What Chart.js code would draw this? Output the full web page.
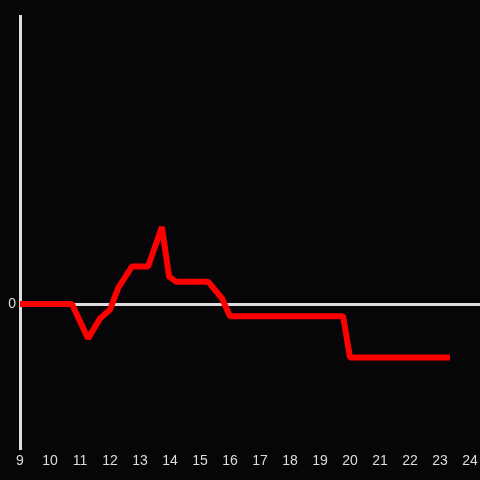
<!DOCTYPE html>
<html>
<head>
<meta charset="utf-8">
<script src="https://cdn.jsdelivr.net/npm/chart.js@4"></script>
<style>
    html, body { margin: 0; padding: 0; background: #060508; }
    #wrap { width: 480px; height: 480px; }
</style>
</head>
<body>
<div id="wrap"><canvas id="lineChart"></canvas></div>
<script>
const hours = [9, 10.73, 11.27, 11.67, 12.0, 12.27, 12.73, 13.27, 13.73, 13.97, 14.2, 15.27, 15.73, 16.0, 19.77, 20.0, 23.33];
const values = [0, 0, -0.24, -0.1, -0.04, 0.11, 0.26, 0.26, 0.535, 0.19, 0.155, 0.155, 0.04, -0.085, -0.085, -0.372, -0.372];
const xTicks = [9, 10, 11, 12, 13, 14, 15, 16, 17, 18, 19, 20, 21, 22, 23, 24];
const yTicks = [0];

const bgPlugin = {
    id: 'bg',
    beforeDraw: (chart) => {
        const ctx = chart.ctx;
        ctx.save();
        ctx.fillStyle = '#060508';
        ctx.fillRect(0, 0, chart.width, chart.height);
        ctx.restore();
    },
};

new Chart(document.getElementById('lineChart'), {
    type: 'line',
    data: {
        datasets: [
            {
                data: hours.map((h, i) => ({ x: h, y: values[i] })),
                borderColor: '#ff0000',
                borderWidth: 6,
                borderJoinStyle: 'bevel',
                pointRadius: 0,
                tension: 0,
                clip: false,
            },
        ],
    },
    options: {
        responsive: true,
        maintainAspectRatio: false,
        animation: false,
        layout: { padding: { top: 16, right: 0, left: 0, bottom: 0 } },
        plugins: {
            legend: { display: false },
            tooltip: { enabled: false },
        },
        scales: {
            x: {
                type: 'linear',
                min: 9,
                max: 24.333,
                afterBuildTicks: (scale) => {
                    scale.ticks = xTicks.map((v) => ({ value: v }));
                },
                afterFit: (scale) => {
                    scale.height = 32;
                    scale.paddingLeft = 0;
                    scale.paddingRight = 0;
                },
                ticks: {
                    color: '#dddddd',
                    padding: 5,
                    maxRotation: 0,
                    autoSkip: false,
                    font: { family: 'Liberation Sans', size: 14 },
                },
                grid: { display: false, drawTicks: false },
                border: { display: false },
            },
            y: {
                min: -1,
                max: 2,
                afterBuildTicks: (scale) => {
                    scale.ticks = yTicks.map((v) => ({ value: v }));
                },
                afterFit: (scale) => { scale.width = 20; },
                ticks: {
                    color: '#dddddd',
                    padding: 4,
                    font: { family: 'Liberation Sans', size: 14 },
                },
                grid: { color: '#dddddd', lineWidth: 3, drawTicks: false },
                border: { display: true, color: '#dddddd', width: 3 },
            },
        },
    },
    plugins: [bgPlugin],
});
</script>
</body>
</html>
